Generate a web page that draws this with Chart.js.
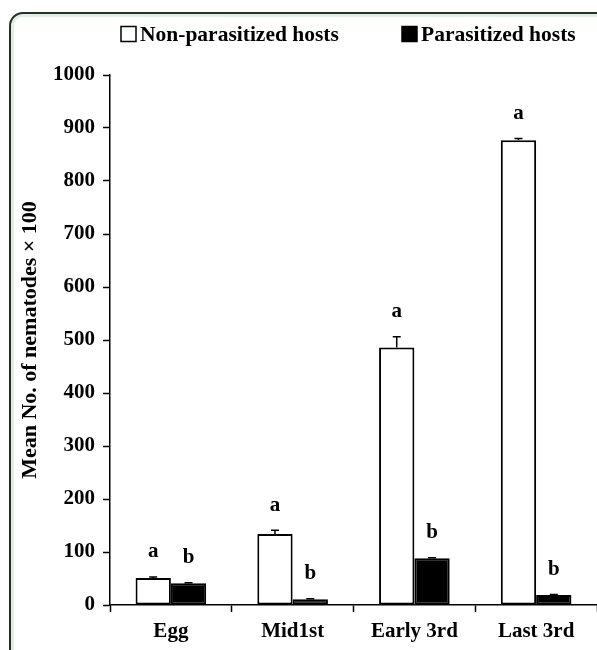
<!DOCTYPE html>
<html>
<head>
<meta charset="utf-8">
<script src="https://cdn.jsdelivr.net/npm/chart.js@4/dist/chart.umd.min.js"></script>
<style>
  html, body { margin: 0; padding: 0; background: #fff; overflow: hidden; }
  #frame {
    position: absolute; left: 9px; top: 12px; width: 700px; height: 700px;
    border: 2px solid #2b2b2b; border-radius: 14px;
    box-shadow: inset 0 0 0 3px #e4ede4;
  }
  #wrap { position: absolute; left: 0; top: 0; width: 597px; height: 650px; }
</style>
</head>
<body>
<div id="frame"></div>
<div id="wrap"><canvas id="myChart" width="597" height="650"></canvas></div>
<script>
var categories = ['Egg', 'Mid1st', 'Early 3rd', 'Last 3rd'];
var nonParasitized = [51, 134, 486, 877];
var parasitized = [41, 11, 88, 19];
var nonParasitizedErr = [2, 7, 20, 3];
var parasitizedErr = [1, 1, 1, 1];
var nonParasitizedLetters = ['a', 'a', 'a', 'a'];
var parasitizedLetters = ['b', 'b', 'b', 'b'];
var yTicks = [0, 100, 200, 300, 400, 500, 600, 700, 800, 900, 1000];

var errs = [nonParasitizedErr, parasitizedErr];
var letters = [nonParasitizedLetters, parasitizedLetters];
var FONT = '"Liberation Serif", "Times New Roman", serif';

// error bars (upper only) and significance letters
var barExtras = {
    id: 'barExtras',
    afterDatasetsDraw: function(chart) {
        var ctx = chart.ctx;
        var y = chart.scales.y;
        ctx.save();
        chart.data.datasets.forEach(function(ds, i) {
            var meta = chart.getDatasetMeta(i);
            meta.data.forEach(function(bar, j) {
                var top = y.getPixelForValue(ds.data[j] + errs[i][j]);
                ctx.strokeStyle = '#000';
                ctx.lineWidth = 1.5;
                ctx.beginPath();
                ctx.moveTo(bar.x, bar.y);
                ctx.lineTo(bar.x, top);
                ctx.moveTo(bar.x - 4, top);
                ctx.lineTo(bar.x + 4, top);
                ctx.stroke();
                ctx.fillStyle = '#000';
                ctx.font = 'bold 21px ' + FONT;
                ctx.textAlign = 'center';
                ctx.textBaseline = 'middle';
                ctx.fillText(letters[i][j], bar.x, top - 25);
            });
        });
        ctx.restore();
    }
};

// legend drawn at the top, boxes like the printed figure
var topLegend = {
    id: 'topLegend',
    afterDraw: function(chart) {
        var ctx = chart.ctx;
        var xs = [121, 402];
        ctx.save();
        ctx.font = 'bold 21.5px ' + FONT;
        ctx.textBaseline = 'middle';
        ctx.textAlign = 'left';
        chart.data.datasets.forEach(function(ds, i) {
            var x = xs[i], cy = 34;
            ctx.fillStyle = ds.backgroundColor;
            ctx.fillRect(x, cy - 7.5, 15, 15);
            ctx.strokeStyle = '#000';
            ctx.lineWidth = 1.5;
            ctx.strokeRect(x, cy - 7.5, 15, 15);
            ctx.fillStyle = '#000';
            ctx.fillText(ds.label, x + 19, cy + 1);
        });
        ctx.restore();
    }
};

function draw() {
    Chart.defaults.font.family = FONT;
    Chart.defaults.font.weight = 'bold';
    Chart.defaults.color = '#000';

    var ctx = document.getElementById('myChart').getContext('2d');
    new Chart(ctx, {
        type: 'bar',
        data: {
            labels: categories,
            datasets: [{
                label: 'Non-parasitized hosts',
                data: nonParasitized,
                backgroundColor: '#fff',
                borderColor: '#000',
                borderWidth: 2,
                borderSkipped: false
            }, {
                label: 'Parasitized hosts',
                data: parasitized,
                backgroundColor: '#000',
                borderColor: '#000',
                borderWidth: 2,
                borderSkipped: false
            }]
        },
        options: {
            responsive: false,
            animation: false,
            devicePixelRatio: 1,
            layout: { padding: { left: 13, right: 0, top: 75, bottom: 4 } },
            plugins: {
                legend: { display: false },
                tooltip: { enabled: false }
            },
            datasets: { bar: { categoryPercentage: 0.58, barPercentage: 1 } },
            scales: {
                x: {
                    grid: { offset: true, drawOnChartArea: false, drawTicks: true, tickLength: 7, color: '#000', tickWidth: 1.5 },
                    border: { color: '#000', width: 1.5 },
                    ticks: { font: { size: 21, weight: 'bold' }, color: '#000', padding: 7, maxRotation: 0 },
                    afterFit: function(s) { s.height = 41; }
                },
                y: {
                    min: 0, max: 1000,
                    afterBuildTicks: function(s) { s.ticks = yTicks.map(function(v) { return { value: v }; }); },
                    grid: { drawOnChartArea: false, drawTicks: true, tickLength: 7, color: '#000', tickWidth: 1.5 },
                    border: { color: '#000', width: 1.5 },
                    ticks: { font: { size: 21, weight: 'bold' }, color: '#000', padding: 8,
                             callback: function(v) { return String(v); } },
                    title: { display: true, text: 'Mean No. of nematodes × 100', font: { size: 22, weight: 'bold' }, color: '#000', padding: 4 },
                    afterFit: function(s) { s.width = 97; }
                }
            }
        },
        plugins: [barExtras, topLegend]
    });
}

if (document.fonts && document.fonts.load) {
    document.fonts.load('bold 21px "Liberation Serif"').then(draw, draw);
} else {
    draw();
}
</script>
</body>
</html>
